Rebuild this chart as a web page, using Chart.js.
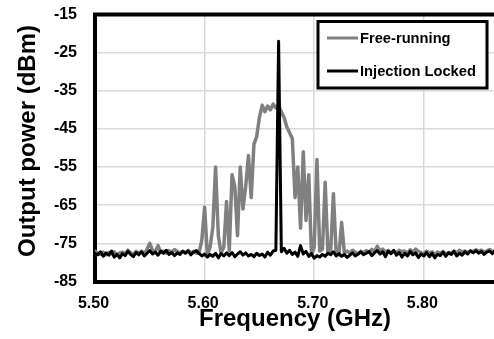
<!DOCTYPE html>
<html lang="en">
<head>
<meta charset="UTF-8">
<title>Free-running vs injection locked spectrum</title>
<style>
    html, body { margin: 0; padding: 0; background: #fff; overflow: hidden; }
    #wrap { width: 494px; height: 339px; }
</style>
<script src="https://cdn.jsdelivr.net/npm/chart.js"></script>
</head>
<body>
<div id="wrap"><canvas id="spec" width="494" height="339"></canvas></div>
<script>
// sweep frequencies (GHz)
const freq = [
    5.5000, 5.5025, 5.5050, 5.5075, 5.5100, 5.5125, 5.5150, 5.5175,
    5.5200, 5.5225, 5.5250, 5.5275, 5.5300, 5.5325, 5.5350, 5.5375,
    5.5400, 5.5425, 5.5450, 5.5475, 5.5500, 5.5525, 5.5550, 5.5575,
    5.5600, 5.5625, 5.5650, 5.5675, 5.5700, 5.5725, 5.5750, 5.5775,
    5.5800, 5.5825, 5.5850, 5.5875, 5.5900, 5.5925, 5.5950, 5.5975,
    5.6000, 5.6025, 5.6050, 5.6075, 5.6100, 5.6125, 5.6150, 5.6175,
    5.6200, 5.6225, 5.6250, 5.6275, 5.6300, 5.6325, 5.6350, 5.6375,
    5.6400, 5.6425, 5.6450, 5.6475, 5.6500, 5.6525, 5.6550, 5.6575,
    5.6600, 5.6625, 5.6650, 5.6675, 5.6700, 5.6725, 5.6750, 5.6775,
    5.6800, 5.6825, 5.6850, 5.6875, 5.6900, 5.6925, 5.6950, 5.6975,
    5.7000, 5.7025, 5.7050, 5.7075, 5.7100, 5.7125, 5.7150, 5.7175,
    5.7200, 5.7225, 5.7250, 5.7275, 5.7300, 5.7325, 5.7350, 5.7375,
    5.7400, 5.7425, 5.7450, 5.7475, 5.7500, 5.7525, 5.7550, 5.7575,
    5.7600, 5.7625, 5.7650, 5.7675, 5.7700, 5.7725, 5.7750, 5.7775,
    5.7800, 5.7825, 5.7850, 5.7875, 5.7900, 5.7925, 5.7950, 5.7975,
    5.8000, 5.8025, 5.8050, 5.8075, 5.8100, 5.8125, 5.8150, 5.8175,
    5.8200, 5.8225, 5.8250, 5.8275, 5.8300, 5.8325, 5.8350, 5.8375,
    5.8400, 5.8425, 5.8450, 5.8475, 5.8500, 5.8525, 5.8550, 5.8575,
    5.8600, 5.8625, 5.8650
];

// output power (dBm), free-running oscillator
const freeRunning = [
    -77.0, -77.6, -77.9, -77.3, -78.0, -77.4, -77.8, -77.2, -78.1, -77.5,
    -77.3, -77.8, -76.8, -77.5, -77.9, -77.1, -77.6, -77.0, -77.7, -76.5,
    -75.0, -76.8, -77.2, -75.6, -77.4, -77.0, -77.6, -76.9, -77.3, -76.6,
    -77.1, -77.6, -77.0, -77.4, -76.8, -77.5, -77.1, -77.6, -77.5, -74.0,
    -65.5, -78.0, -76.0, -70.8, -55.0, -73.0, -77.5, -76.0, -64.0, -77.0,
    -57.0, -60.0, -73.0, -55.0, -66.0, -60.0, -52.0, -63.0, -49.0, -47.0,
    -42.0, -38.8, -40.5, -39.0, -40.0, -38.5, -39.5, -39.0, -40.5, -42.0,
    -44.5, -46.0, -47.5, -63.0, -55.0, -71.0, -51.0, -69.0, -57.0, -78.0,
    -76.0, -53.0, -77.0, -76.5, -59.0, -77.5, -77.0, -62.0, -77.5, -78.0,
    -69.5, -77.5, -77.0, -77.6, -76.8, -77.3, -77.8, -77.1, -77.5, -76.9,
    -77.4, -76.6, -77.2, -75.8, -77.0, -76.5, -77.3, -76.9, -77.6, -77.1,
    -77.5, -76.8, -77.2, -77.0, -77.6, -76.7, -77.3, -76.5, -77.1, -77.4,
    -77.8, -77.0, -77.5, -77.2, -77.9, -77.3, -77.6, -77.1, -77.8, -77.4,
    -77.6, -77.0, -77.5, -76.8, -77.3, -77.0, -77.4, -76.9, -77.2, -76.7,
    -77.1, -76.8, -77.3, -77.0, -76.6, -77.2, -76.9
];

// output power (dBm), injection locked
const injectionLocked = [
    -77.6, -78.0, -77.2, -78.4, -77.5, -78.1, -77.0, -78.6, -77.9, -78.8,
    -77.7, -78.2, -77.1, -77.9, -78.5, -77.4, -78.0, -77.2, -78.3, -77.6,
    -76.9, -77.8, -77.3, -78.1, -77.0, -77.6, -76.8, -77.9, -77.4, -78.2,
    -77.5, -77.9, -77.1, -77.6, -77.0, -78.0, -77.3, -76.9, -77.7, -78.3,
    -77.8, -78.6, -77.9, -78.4, -77.6, -78.8, -77.7, -78.3, -77.5, -78.2,
    -77.4, -78.5, -77.8, -77.2, -78.1, -77.5, -78.3, -77.9, -78.5, -77.6,
    -78.2, -77.8, -78.6, -77.3, -78.1, -77.0, -76.8, -22.0, -77.2, -76.3,
    -77.6, -76.8, -77.9, -77.3, -78.4, -75.6, -77.8, -77.1, -78.4, -77.7,
    -78.9, -78.2, -78.6, -77.9, -78.4, -77.6, -78.0, -77.2, -78.3, -77.7,
    -78.4, -77.9, -78.7, -78.1, -77.5, -78.3, -77.8, -77.2, -78.0, -77.6,
    -77.1, -78.2, -77.5, -76.9, -77.8, -77.2, -78.5, -77.0, -77.7, -76.8,
    -78.1, -77.4, -78.6, -77.6, -78.3, -77.1, -78.0, -77.5, -78.7, -77.8,
    -78.3, -77.4, -78.5, -77.6, -78.8, -77.9, -78.2, -77.3, -78.4, -77.5,
    -77.9, -77.1, -78.3, -77.6, -78.1, -77.2, -77.8, -77.0, -77.5, -76.9,
    -77.6, -77.1, -77.9, -77.3, -77.0, -77.7, -76.9
];

const seriesNames = ['Free-running', 'Injection Locked'];
const seriesColors = ['#808080', '#000000'];
const xTitle = 'Frequency (GHz)';
const yTitle = 'Output power (dBm)';

const FONT = '"Liberation Sans", Arial, sans-serif';
Chart.defaults.font.family = FONT;
Chart.defaults.color = '#000';

// frame top line, x tick labels, legend box and axis titles
const decorations = {
    id: 'decorations',
    afterDraw(chart) {
        const ctx = chart.ctx;
        const area = chart.chartArea;
        const xs = chart.scales.x;
        ctx.save();

        // top edge of the plot frame
        ctx.strokeStyle = '#000';
        ctx.lineWidth = 4;
        ctx.beginPath();
        ctx.moveTo(area.left - 2, area.top);
        ctx.lineTo(chart.width, area.top);
        ctx.stroke();

        // x tick labels (horizontal position from the x scale)
        ctx.fillStyle = '#000';
        ctx.font = 'bold 16px ' + FONT;
        ctx.textAlign = 'center';
        ctx.textBaseline = 'middle';
        xs.ticks.forEach(t => {
            ctx.fillText(Number(t.value).toFixed(2), xs.getPixelForValue(t.value) - 1.5, 304);
        });

        // legend
        const box = { l: 318, t: 21.5, r: 487, b: 88 };
        ctx.fillStyle = '#fff';
        ctx.fillRect(box.l, box.t, box.r - box.l, box.b - box.t);
        ctx.lineWidth = 3;
        ctx.strokeRect(box.l, box.t, box.r - box.l, box.b - box.t);
        const rows = [38, 71];
        ctx.font = 'bold 14.7px ' + FONT;
        ctx.textBaseline = 'middle';
        ctx.textAlign = 'left';
        seriesNames.forEach((name, k) => {
            ctx.strokeStyle = seriesColors[k];
            ctx.lineWidth = 3;
            ctx.beginPath();
            ctx.moveTo(327, rows[k]);
            ctx.lineTo(358, rows[k]);
            ctx.stroke();
            ctx.fillStyle = '#000';
            ctx.fillText(name, 360, rows[k] + 0.5);
        });

        // axis titles
        ctx.fillStyle = '#000';
        ctx.font = 'bold 24px ' + FONT;
        ctx.textAlign = 'center';
        ctx.textBaseline = 'alphabetic';
        ctx.fillText(xTitle, 295, 326);
        ctx.translate(35, 141);
        ctx.rotate(-Math.PI / 2);
        ctx.fillText(yTitle, 0, 0);
        ctx.restore();
    }
};

new Chart(document.getElementById('spec'), {
    type: 'line',
    data: {
        datasets: [
            {
                label: seriesNames[0],
                data: freq.map((f, k) => ({ x: f, y: freeRunning[k] })),
                borderColor: seriesColors[0],
                borderWidth: 3.5,
                order: 2
            },
            {
                label: seriesNames[1],
                data: freq.map((f, k) => ({ x: f, y: injectionLocked[k] })),
                borderColor: seriesColors[1],
                borderWidth: 3,
                order: 1
            }
        ]
    },
    options: {
        responsive: false,
        animation: false,
        devicePixelRatio: 1,
        layout: { padding: { top: 14.5, right: 0, left: 0, bottom: 0 } },
        elements: {
            point: { radius: 0 },
            line: { tension: 0, borderJoinStyle: 'round', borderCapStyle: 'round' }
        },
        plugins: {
            legend: { display: false },
            tooltip: { enabled: false }
        },
        scales: {
            x: {
                type: 'linear',
                min: 5.5,
                max: 5.864,
                afterFit: s => {
                    s.height = 57.5;
                    s.paddingLeft = 0;
                    s.paddingRight = 0;
                },
                afterBuildTicks: s => {
                    s.ticks = s.ticks.filter(t => Math.abs(t.value * 10 - Math.round(t.value * 10)) < 1e-6);
                },
                ticks: {
                    stepSize: 0.1,
                    display: false
                },
                grid: { color: '#d9d9d9', lineWidth: 1.5, drawTicks: false },
                border: { color: '#000', width: 4 }
            },
            y: {
                min: -85,
                max: -15,
                afterFit: s => {
                    s.width = 95;
                    s.paddingTop = 0;
                    s.paddingBottom = 0;
                },
                ticks: {
                    stepSize: 10,
                    padding: 18,
                    font: { size: 16, weight: 'bold' }
                },
                grid: { color: '#d9d9d9', lineWidth: 1.5, drawTicks: false },
                border: { color: '#000', width: 4 }
            }
        }
    },
    plugins: [decorations]
});
</script>
</body>
</html>
